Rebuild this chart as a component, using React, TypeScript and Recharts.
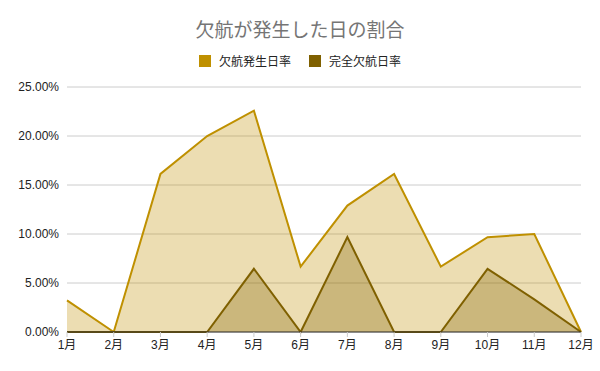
import React from "react";
import { AreaChart, Area, XAxis, YAxis, CartesianGrid } from "recharts";

const months = ["1月", "2月", "3月", "4月", "5月", "6月", "7月", "8月", "9月", "10月", "11月", "12月"];
const cancelRate = [3.23, 0, 16.13, 20.0, 22.58, 6.67, 12.9, 16.13, 6.67, 9.68, 10.0, 0];
const fullCancelRate = [0, 0, 0, 0, 6.45, 0, 9.68, 0, 0, 6.45, 3.33, 0];
const yTicks = [0, 5, 10, 15, 20, 25];
const seriesNames = ["欠航発生日率", "完全欠航日率"];
const seriesColors = ["#bf9000", "#7f6000"];

const data = months.map((m, i) => ({ month: m, a: cancelRate[i], b: fullCancelRate[i] }));

const FONT = "'Liberation Sans', 'Noto Sans CJK JP', sans-serif";

const LegendContent = () => (
  <div style={{ display: "flex", justifyContent: "center", fontFamily: "'Noto Sans CJK JP', sans-serif", fontSize: 12, color: "#222" }}>
    {seriesNames.map((n, i) => (
      <div key={n} style={{ display: "flex", alignItems: "center", marginLeft: i === 0 ? 0 : 18 }}>
        <div style={{ width: 12, height: 12, background: seriesColors[i], marginRight: 8 }} />
        <span style={{ lineHeight: "12px" }}>{n}</span>
      </div>
    ))}
  </div>
);

export default function App() {
  return (
    <div style={{ position: "fixed", left: 0, top: 0, width: 600, height: 371, background: "#fff" }}>
      <div style={{ position: "absolute", top: 17, left: 0, width: 600, textAlign: "center", fontFamily: "'Noto Sans CJK JP', sans-serif", fontSize: 19, color: "#757575", lineHeight: "24px" }}>
        欠航が発生した日の割合
      </div>
      <div style={{ position: "absolute", top: 55, left: 0, width: 600 }}>
        <LegendContent />
      </div>
      <AreaChart width={600} height={371} data={data} margin={{ top: 87, right: 19, bottom: 9, left: 0 }}>
        <CartesianGrid vertical={false} stroke="#cccccc" />
        <XAxis
          dataKey="month"
          axisLine={{ stroke: "#333333" }}
          tickLine={{ stroke: "#cccccc" }}
          tickSize={5}
          tickMargin={3}
          tick={{ fontSize: 12, fill: "#222", fontFamily: FONT }}
          height={30}
          interval={0}
        />
        <YAxis
          domain={[0, 25]}
          ticks={yTicks}
          axisLine={false}
          tickLine={false}
          width={67}
          tick={{ fontSize: 12, fill: "#222", fontFamily: FONT }}
          tickFormatter={(v: number) => v.toFixed(2) + "%"}
        />
        <Area type="linear" dataKey="a" name={seriesNames[0]} stroke={seriesColors[0]} strokeWidth={2} fill={seriesColors[0]} fillOpacity={0.3} isAnimationActive={false} dot={false} activeDot={false} />
        <Area type="linear" dataKey="b" name={seriesNames[1]} stroke={seriesColors[1]} strokeWidth={2} fill={seriesColors[1]} fillOpacity={0.3} isAnimationActive={false} dot={false} activeDot={false} />
      </AreaChart>
    </div>
  );
}
